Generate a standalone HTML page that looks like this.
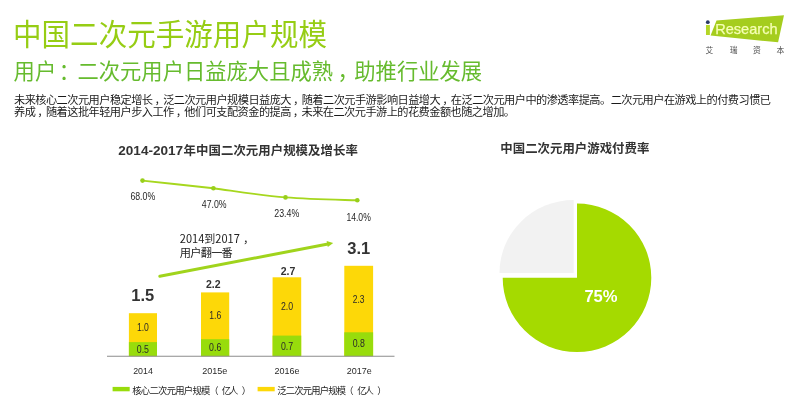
<!DOCTYPE html>
<html lang="zh-CN">
<head>
<meta charset="utf-8">
<title>中国二次元手游用户规模</title>
<style>
html,body{margin:0;padding:0;background:#fff;}
body{width:790px;height:415px;overflow:hidden;position:relative;font-family:"Liberation Sans","Noto Sans CJK SC",sans-serif;}
svg{position:absolute;left:0;top:0;display:block;}
text{font-family:"Liberation Sans","Noto Sans CJK SC",sans-serif;}
.cjk{font-family:"Noto Sans CJK SC","Liberation Sans",sans-serif;}
</style>
</head>
<body>
<svg width="790" height="415" viewBox="0 0 790 415">
<rect width="790" height="415" fill="#ffffff"/>

<!-- headings -->
<text class="cjk" transform="translate(13,44.7) scale(1,1.03)" x="0" y="0" font-size="28.5" fill="#96cd14" textLength="314" lengthAdjust="spacing">中国二次元手游用户规模</text>
<text class="cjk" transform="translate(13.6,79) scale(1,1.02)" x="0" y="0" font-size="21.3" fill="#66bb2e" textLength="468.5" lengthAdjust="spacing">用户<tspan dx="2.6">：</tspan><tspan dx="-2.6">二</tspan>次元用户日益庞大且成熟<tspan dx="4.5">，</tspan><tspan dx="-4.5">助</tspan>推行业发展</text>

<!-- body -->
<text class="cjk" x="14" y="103.8" font-size="11.2" fill="#1a1a1a" textLength="757" lengthAdjust="spacing">未来核心二次元用户稳定增长<tspan dx="2">，</tspan><tspan dx="-2">泛</tspan>二次元用户规模日益庞大<tspan dx="2">，</tspan><tspan dx="-2">随</tspan>着二次元手游影响日益增大<tspan dx="2">，</tspan><tspan dx="-2">在</tspan>泛二次元用户中的渗透率提高。二次元用户在游戏上的付费习惯已</text>
<text class="cjk" x="14" y="116" font-size="11.2" fill="#1a1a1a" textLength="501" lengthAdjust="spacing">养成<tspan dx="2">，</tspan><tspan dx="-2">随</tspan>着这批年轻用户步入工作<tspan dx="2">，</tspan><tspan dx="-2">他</tspan>们可支配资金的提高<tspan dx="2">，</tspan><tspan dx="-2">未</tspan>来在二次元手游上的花费金额也随之增加。</text>

<!-- logo -->
<g id="logo">
<polygon points="716.5,20.6 784,15.2 778.1,42.3 710.6,35.5" fill="#a5cd1e"/>
<text transform="translate(703.9,35.4) scale(1.55,1)" x="0" y="0" font-size="18.3" font-weight="bold" fill="#b4d626">i</text>
<rect x="705" y="19.5" width="5.6" height="5.4" fill="#ffffff"/>
<circle cx="707.8" cy="22.2" r="1.9" fill="#2b3a67"/>
<text x="715.2" y="33.6" font-size="14.4" fill="#f6ffb4" stroke="#f6ffb4" stroke-width="0.25" textLength="62.4" lengthAdjust="spacingAndGlyphs">Research</text>
<text class="cjk" x="705.6 729.8 753 776.6" y="52.9" font-size="7.8" fill="#4a4a4a">艾瑞资本</text>
</g>

<!-- chart title -->
<text x="118.3" y="155.3" font-size="12.4" font-weight="bold" fill="#333"><tspan textLength="64.8" lengthAdjust="spacingAndGlyphs">2014-2017</tspan><tspan class="cjk" x="183.6" textLength="174.2" lengthAdjust="spacing">年中国二次元用户规模及增长率</tspan></text>

<!-- growth line -->
<path d="M142.5,180.6 C166,183.2 190,185.8 213.4,188.2 C238,191.6 262,195.5 285.5,197.4 C309,199.2 333,199.6 357.3,200.3" fill="none" stroke="#a6d71e" stroke-width="1.9" stroke-linecap="round"/>
<g fill="#98cf1a">
<circle cx="142.5" cy="180.6" r="2.3"/><circle cx="213.4" cy="188.2" r="2.3"/><circle cx="285.5" cy="197.4" r="2.3"/><circle cx="357.3" cy="200.3" r="2.3"/>
</g>
<g fill="#262626">
<text x="130.4" y="199.8" font-size="10.3" textLength="24.8" lengthAdjust="spacingAndGlyphs">68.0%</text>
<text x="201.8" y="207.6" font-size="10.3" textLength="24.8" lengthAdjust="spacingAndGlyphs">47.0%</text>
<text x="274.3" y="216.6" font-size="10.3" textLength="25.0" lengthAdjust="spacingAndGlyphs">23.4%</text>
<text x="346.4" y="221.4" font-size="10.3" textLength="24.4" lengthAdjust="spacingAndGlyphs">14.0%</text>
</g>

<!-- arrow -->
<line x1="159.8" y1="276.3" x2="328" y2="244" stroke="#a0d41c" stroke-width="3" stroke-linecap="round"/>
<polygon points="333.2,243 326.6,241 327.8,247" fill="#a0d41c"/>
<text class="cjk" x="179.8" y="243" font-size="11.2" fill="#222"><tspan textLength="60" lengthAdjust="spacingAndGlyphs">2014到2017</tspan><tspan x="243">，</tspan></text>
<text class="cjk" x="179.8" y="256.8" font-size="11.2" fill="#222" textLength="53" lengthAdjust="spacing">用户翻一番</text>

<!-- bars -->
<g>
<rect x="128.9" y="313.2" width="28.1" height="43" fill="#fdd808"/>
<rect x="128.9" y="342.1" width="28.1" height="14.1" fill="#98dc0c"/>
<rect x="201" y="292.4" width="28.2" height="63.8" fill="#fdd808"/>
<rect x="201" y="339.2" width="28.2" height="17" fill="#98dc0c"/>
<rect x="272.6" y="277.3" width="28.6" height="78.9" fill="#fdd808"/>
<rect x="272.6" y="335.6" width="28.6" height="20.6" fill="#98dc0c"/>
<rect x="344.3" y="265.8" width="28.8" height="90.4" fill="#fdd808"/>
<rect x="344.3" y="332.3" width="28.8" height="23.9" fill="#98dc0c"/>
</g>
<line x1="107" y1="356.3" x2="394.5" y2="356.3" stroke="#8c8c8c" stroke-width="1.1"/>

<g fill="#2a2a2a">
<text x="136.9" y="330.6" font-size="10.3" textLength="12.0" lengthAdjust="spacingAndGlyphs">1.0</text>
<text x="136.8" y="353.2" font-size="10.3" textLength="12.2" lengthAdjust="spacingAndGlyphs">0.5</text>
<text x="209.2" y="318.8" font-size="10.3" textLength="12.0" lengthAdjust="spacingAndGlyphs">1.6</text>
<text x="209.1" y="350.9" font-size="10.3" textLength="12.2" lengthAdjust="spacingAndGlyphs">0.6</text>
<text x="280.9" y="309.7" font-size="10.3" textLength="12.2" lengthAdjust="spacingAndGlyphs">2.0</text>
<text x="280.9" y="349.5" font-size="10.3" textLength="12.2" lengthAdjust="spacingAndGlyphs">0.7</text>
<text x="352.7" y="302.9" font-size="10.3" textLength="11.8" lengthAdjust="spacingAndGlyphs">2.3</text>
<text x="352.7" y="347.3" font-size="10.3" textLength="12.2" lengthAdjust="spacingAndGlyphs">0.8</text>
<text x="133.2" y="373.9" font-size="9.3" textLength="19.7" lengthAdjust="spacingAndGlyphs">2014</text>
<text x="202.3" y="373.9" font-size="9.3" textLength="25.1" lengthAdjust="spacingAndGlyphs">2015e</text>
<text x="274.5" y="374.2" font-size="9.3" textLength="25.0" lengthAdjust="spacingAndGlyphs">2016e</text>
<text x="346.7" y="374.2" font-size="9.3" textLength="25.0" lengthAdjust="spacingAndGlyphs">2017e</text>
</g>
<g font-weight="bold" fill="#333" text-anchor="middle">
<text x="142.7" y="301.3" font-size="16.5">1.5</text>
<text x="213.3" y="288" font-size="10.5">2.2</text>
<text x="288" y="274.6" font-size="10.5">2.7</text>
<text x="358.8" y="254" font-size="16.5">3.1</text>
</g>

<!-- legend -->
<rect x="112.6" y="386.9" width="17.1" height="4.4" fill="#98dc0c"/>
<text class="cjk" y="393.7" font-size="9.3" fill="#222"><tspan x="132.2" textLength="78.2" lengthAdjust="spacing">核心二次元用户规模</tspan><tspan x="209.2">（</tspan><tspan x="221.8" textLength="16.6" lengthAdjust="spacing">亿人</tspan><tspan x="241.7">）</tspan></text>
<rect x="257.6" y="386.9" width="17.1" height="4.4" fill="#fdd808"/>
<text class="cjk" y="393.7" font-size="9.3" fill="#222"><tspan x="277.2" textLength="68.8" lengthAdjust="spacing">泛二次元用户规模</tspan><tspan x="344.2">（</tspan><tspan x="357.3" textLength="16.6" lengthAdjust="spacing">亿人</tspan><tspan x="377.2">）</tspan></text>

<!-- pie -->
<text class="cjk" x="500.3" y="152.6" font-size="12.4" font-weight="bold" fill="#333" textLength="149" lengthAdjust="spacing">中国二次元用户游戏付费率</text>
<path d="M577,277.8 L577,203.5 A74.3,74.3 0 1 1 502.7,277.8 Z" fill="#a5da00"/>
<path d="M573.7,273 L499.5,273 A74.2,73 0 0 1 573.7,200 Z" fill="#f2f2f2"/>
<text x="584.4" y="301.8" font-size="16" font-weight="bold" fill="#ffffff" textLength="33.2" lengthAdjust="spacingAndGlyphs">75%</text>
</svg>
</body>
</html>
